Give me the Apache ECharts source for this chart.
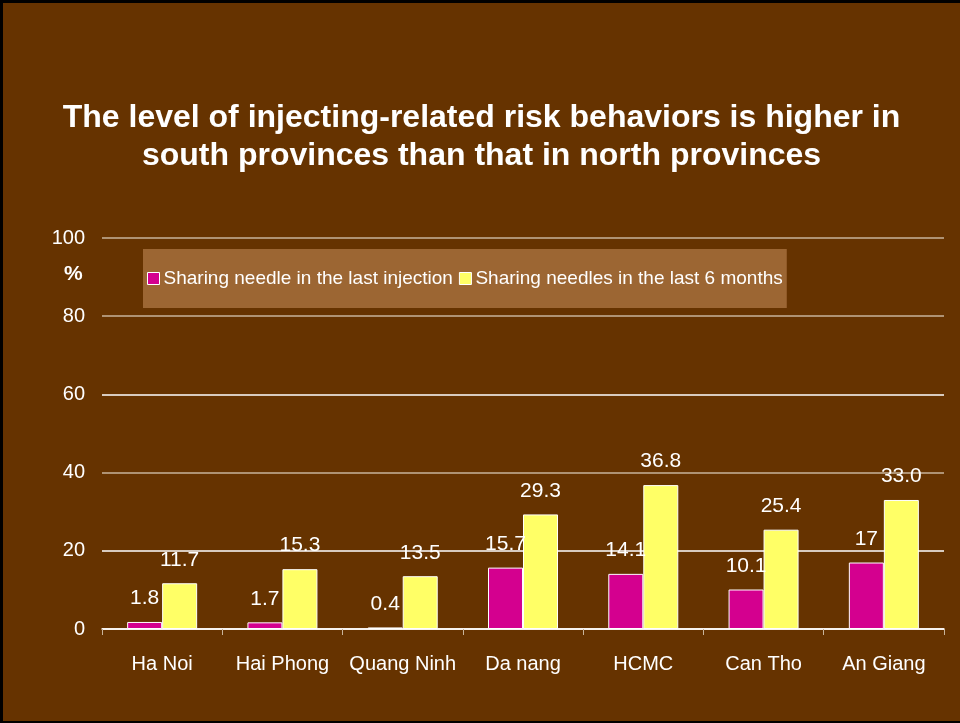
<!DOCTYPE html>
<html><head><meta charset="utf-8">
<script src="https://cdn.jsdelivr.net/npm/echarts@6/dist/echarts.min.js"></script>
<style>
html,body{margin:0;padding:0;background:#663300;}
#wrap{width:957px;height:718px;border-top:3px solid #000;border-left:3px solid #000;border-bottom:2px solid #000;}
#chart{width:957px;height:718px;}
</style></head>
<body><div id="wrap"><div id="chart"></div></div>
<script>
const categories = ['Ha Noi','Hai Phong','Quang Ninh','Da nang','HCMC','Can Tho','An Giang'];
const lastInjection = [1.8, 1.7, 0.4, 15.7, 14.1, 10.1, 17];
const lastSixMonths = [11.7, 15.3, 13.5, 29.3, 36.8, 25.4, 33.0];
const lastInjectionLabels = ['1.8','1.7','0.4','15.7','14.1','10.1','17'];
const lastSixMonthsLabels = ['11.7','15.3','13.5','29.3','36.8','25.4','33.0'];
const seriesNames = ['Sharing needle in the last injection','Sharing needles in the last 6 months'];
const titleText = 'The level of injecting-related risk behaviors is higher in\nsouth provinces than that in north provinces';

const FONT = 'Liberation Sans, Arial, sans-serif';
const chart = echarts.init(document.getElementById('chart'));
chart.setOption({
  backgroundColor: '#663300',
  animation: false,
  title: {
    text: titleText, left: 'center', top: 91,
    textStyle: {color:'#fff', fontFamily: FONT, fontWeight:'bold', fontSize:32, lineHeight:38}
  },
  legend: {
    left: 140, top: 246,
    padding: [20, 4, 20, 4],
    backgroundColor: '#9c6633',
    itemWidth: 12, itemHeight: 12, itemGap: 6,
    icon: 'rect',
    textStyle: {color:'#fff', fontFamily: FONT, fontSize: 19, padding:[0,0,0,-1]},
    data: seriesNames.map((n,i)=>({name:n, itemStyle:{borderColor:'#fff', borderWidth:1}}))
  },
  graphic: [{
    type:'text', left: 61, top: 261,
    style:{text:'%', fill:'#fff', font:'bold 21px ' + FONT}
  }],
  grid: {left: 99, right: 16, top: 235, bottom: 92, containLabel:false},
  xAxis: {
    type:'category', data: categories,
    axisLine:{lineStyle:{color:'#fff', width:1.5}},
    axisTick:{show:true, interval:0, length:6, lineStyle:{color:'#c8b49b'}},
    axisLabel:{color:'#fff', fontFamily: FONT, fontSize:20, margin:25, interval:0}
  },
  yAxis: {
    type:'value', min:0, max:100, interval:20,
    axisLine:{show:false}, axisTick:{show:false},
    axisLabel:{color:'#fff', fontFamily: FONT, fontSize:20, margin:17},
    splitLine:{lineStyle:{color:['#fff','#fff','#c8b49b','#fff','#c8b49b','#c8b49b'], width:1.5}}
  },
  series: [
    {
      name: seriesNames[0], type:'bar', data: lastInjection, barWidth: 35, barGap: '0%',
      itemStyle:{color:'#d4008f', borderColor:'#fff', borderWidth:1},
      label:{show:true, position:'top', distance:13, color:'#fff', fontFamily: FONT, fontSize:21,
        formatter: p => lastInjectionLabels[p.dataIndex]}
    },
    {
      name: seriesNames[1], type:'bar', data: lastSixMonths, barWidth: 35,
      itemStyle:{color:'#ffff66', borderColor:'#fff', borderWidth:1},
      label:{show:true, position:'top', distance:13, color:'#fff', fontFamily: FONT, fontSize:21,
        formatter: p => lastSixMonthsLabels[p.dataIndex]}
    }
  ]
});
</script></body></html>
